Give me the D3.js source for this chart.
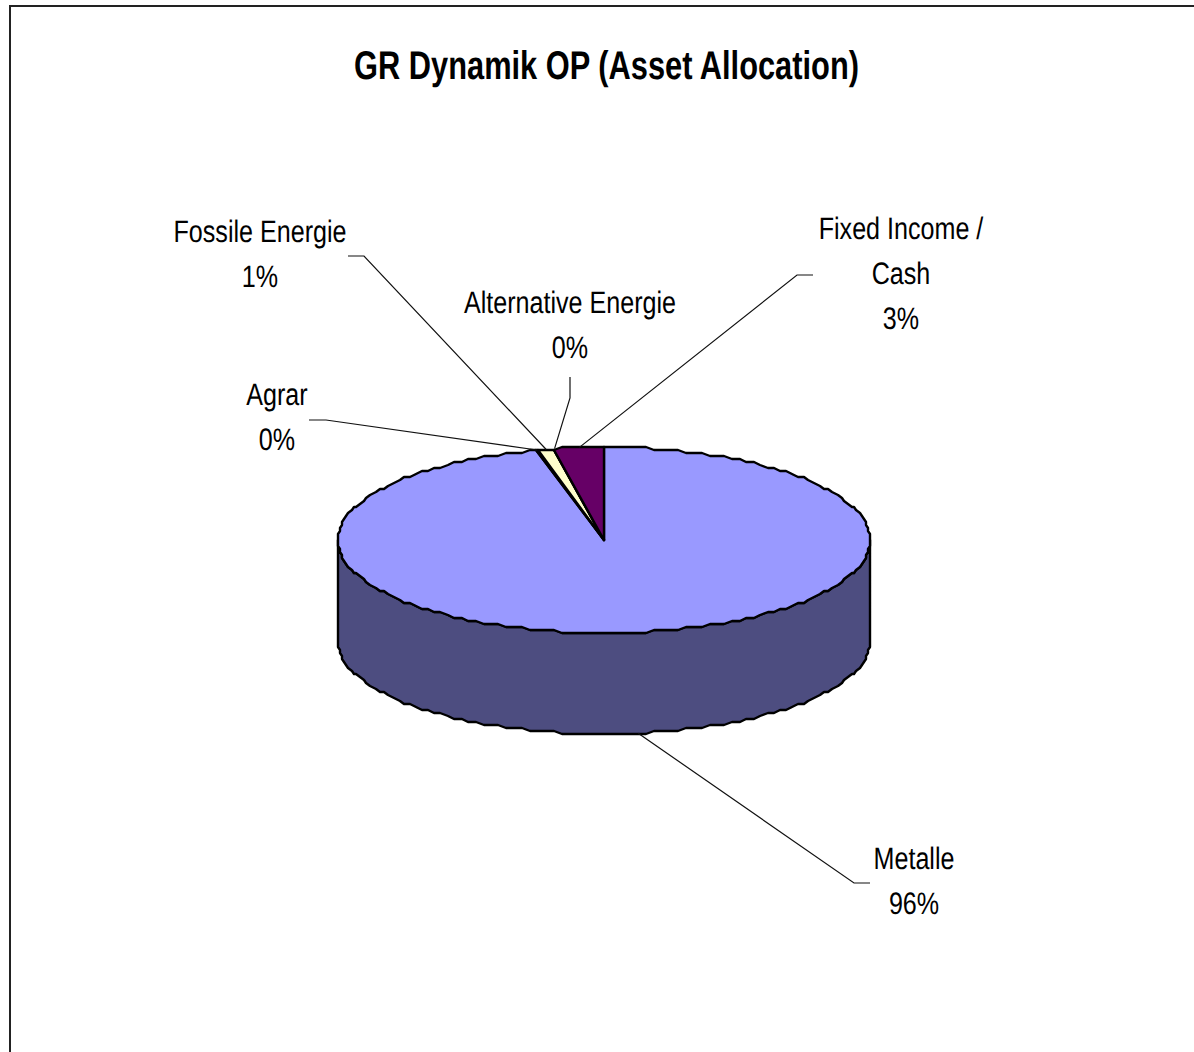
<!DOCTYPE html>
<html>
<head>
<meta charset="utf-8">
<script src="https://cdn.jsdelivr.net/npm/d3@7"></script>
<style>
html, body { margin: 0; padding: 0; background: #fff; overflow: hidden; }
text { font-family: "Liberation Sans", Arial, sans-serif; fill: #000; text-rendering: geometricPrecision; }
</style>
</head>
<body>
<div id="graph_container"></div>
<script>
var title = "GR Dynamik OP (Asset Allocation)";
var categories = ["Metalle", "Agrar", "Fossile Energie", "Alternative Energie", "Fixed Income / Cash"];
var values = [95.9, 0.1, 1.0, 0.05, 2.95];
var colors = ["#9999ff", "#ffffcc", "#ffffcc", "#ffffcc", "#660066"];
var sideColor = "#4d4d80";

// label blocks: wrapped text, centre x, first baseline, leader start and elbow
var labelLines = [["Metalle"], ["Agrar"], ["Fossile Energie"], ["Alternative Energie"], ["Fixed Income /", "Cash"]];
var labelX = [914, 277, 260, 570, 901];
var labelY = [869, 405, 242, 313, 239];
var leaderStart = [[870, 883], [309, 420], [348, 256], [570, 377], [813, 275]];
var leaderElbow = [[854, 883], [326, 420], [364, 256], [570, 398], [797, 275]];

var w = 1194, h = 1052;
var lineGap = 45, squeeze = 0.81, depth = 101, gridX = 2, gridY = 3;

var xScale = d3.scaleLinear().domain([-1, 1]).range([338, 870]);
var yScale = d3.scaleLinear().domain([-1, 1]).range([633, 447]);

var pct = d3.format(".0%");
var total = d3.sum(values);

var svg = d3.select("#graph_container").append("svg")
    .attr("width", w)
    .attr("height", h);

// chart frame runs off the right and bottom of the picture
svg.append("rect")
    .attr("x", 10).attr("y", 6)
    .attr("width", w + 50).attr("height", h + 50)
    .attr("fill", "#fff")
    .attr("stroke", "#222")
    .attr("stroke-width", 2);

var arcs = d3.pie().sort(null).value(function(d) { return d; })(values);

// outline of the old metafile pie is stepped, so snap it to a coarse grid
function rim(a) {
    return [Math.round(xScale(Math.sin(a)) / gridX) * gridX,
            Math.round(yScale(Math.cos(a)) / gridY) * gridY];
}

function rimPoints(a0, a1) {
    var step = Math.PI / 100, pts = [rim(a0)];
    var k = Math.floor(a0 / step) + 1;
    for (; k * step < a1; k++) pts.push(rim(k * step));
    pts.push(rim(a1));
    return pts;
}

var line = d3.line();
var cx = xScale(0), cy = yScale(0);

// side wall, only the front half shows
var front = rimPoints(Math.PI / 2, Math.PI * 1.5);
var back = front.slice().reverse().map(function(p) { return [p[0], p[1] + depth]; });
svg.append("path")
    .attr("d", line(front.concat(back)) + "Z")
    .attr("fill", sideColor)
    .attr("stroke", "#000")
    .attr("stroke-width", 2.4)
    .attr("stroke-linejoin", "round");

svg.selectAll("path.slice")
    .data(arcs)
    .enter()
    .append("path")
    .attr("class", "slice")
    .attr("d", function(d) {
        return line([[cx, cy]].concat(rimPoints(d.startAngle, d.endAngle))) + "Z";
    })
    .attr("fill", function(d, i) { return colors[i]; })
    .attr("stroke", "#000")
    .attr("stroke-width", 2.4)
    .attr("stroke-linejoin", "round");

// leader lines end on the middle of each slice
svg.selectAll("path.leader")
    .data(arcs)
    .enter()
    .append("path")
    .attr("class", "leader")
    .attr("d", function(d, i) {
        var mid = (d.startAngle + d.endAngle) / 2;
        var end = [xScale(Math.sin(mid)), yScale(Math.cos(mid))];
        if (Math.cos(mid) < 0) end[1] += depth;
        return line([leaderStart[i], leaderElbow[i], end]);
    })
    .attr("fill", "none")
    .attr("stroke", "#111")
    .attr("stroke-width", 1.2);

function squeezed(x, y, str, size, weight, fit) {
    return svg.append("text")
        .attr("text-anchor", "middle")
        .attr("transform", "translate(" + x + "," + y + ") scale(" + fit + ",1)")
        .style("font-size", size + "px")
        .style("font-weight", weight)
        .text(str);
}

squeezed(606.5, 79, title, 40, "bold", 0.77);

arcs.forEach(function(d, i) {
    var lines = labelLines[i].concat(pct(values[i] / total));
    lines.forEach(function(str, j) {
        squeezed(labelX[i], labelY[i] + j * lineGap, str, 31, "normal", squeeze);
    });
});
</script>
</body>
</html>
